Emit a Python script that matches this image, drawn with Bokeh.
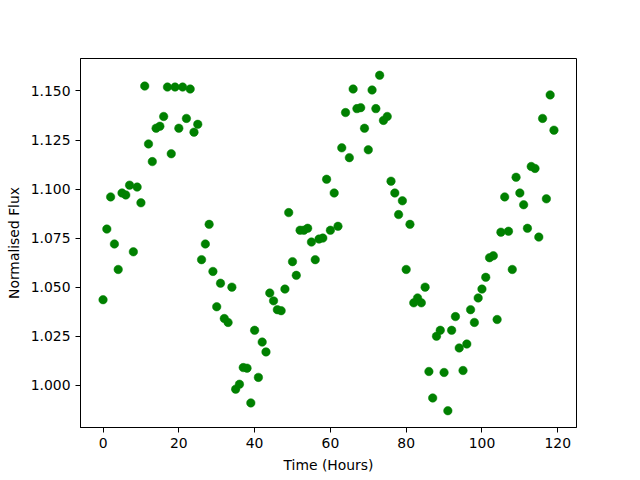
from bokeh.plotting import figure
from bokeh.models import Range1d, FixedTicker, NumeralTickFormatter
from bokeh.embed import file_html
from bokeh.resources import INLINE

hours = list(range(120))
flux = [
    1.0436, 1.0796, 1.0960, 1.0720, 1.0590, 1.0980, 1.0970, 1.1020, 1.0680, 1.1010,
    1.0930, 1.1525, 1.1230, 1.1140, 1.1310, 1.1320, 1.1370, 1.1520, 1.1180, 1.1520,
    1.1310, 1.1520, 1.1360, 1.1510, 1.1290, 1.1330, 1.0640, 1.0720, 1.0820, 1.0580,
    1.0400, 1.0520, 1.0340, 1.0320, 1.0500, 0.9980, 1.0005, 1.0090, 1.0087, 0.9910,
    1.0280, 1.0040, 1.0220, 1.0170, 1.0470, 1.0430, 1.0385, 1.0380, 1.0490, 1.0880,
    1.0630, 1.0560, 1.0790, 1.0790, 1.0800, 1.0730, 1.0640, 1.0745, 1.0750, 1.1050,
    1.0790, 1.0980, 1.0810, 1.1210, 1.1390, 1.1160, 1.1510, 1.1410, 1.1415, 1.1310,
    1.1200, 1.1505, 1.1410, 1.1580, 1.1350, 1.1370, 1.1040, 1.0980, 1.0870, 1.0940,
    1.0590, 1.0820, 1.0420, 1.0445, 1.0420, 1.0500, 1.0070, 0.9935, 1.0250, 1.0280,
    1.0065, 0.9870, 1.0280, 1.0350, 1.0190, 1.0075, 1.0210, 1.0385, 1.0320, 1.0445,
    1.0490, 1.0550, 1.0650, 1.0660, 1.0335, 1.0780, 1.0960, 1.0785, 1.0590, 1.1060,
    1.0980, 1.0920, 1.0800, 1.1115, 1.1105, 1.0755, 1.1360, 1.0950, 1.1480, 1.1300,
]
x_ticks = [0, 20, 40, 60, 80, 100, 120]
y_ticks = [1.000, 1.025, 1.050, 1.075, 1.100, 1.125, 1.150]

xr = max(hours) - min(hours)
yr = max(flux) - min(flux)

p = figure(
    output_backend="svg", toolbar_location=None,
    frame_width=496, frame_height=369,
    min_border_left=80, min_border_right=56, min_border_top=58, min_border_bottom=45,
    x_range=Range1d(min(hours) - 0.05 * xr, max(hours) + 0.05 * xr),
    y_range=Range1d(min(flux) - 0.05 * yr, max(flux) + 0.05 * yr),
    background_fill_color="white", border_fill_color="white",
)
p.outline_line_color = "black"
p.outline_line_width = 1
p.grid.visible = False

p.scatter(hours, flux, size=8.5, fill_color="#008000", line_color="#008000", line_width=0.5)

font = "DejaVu Sans"
for ax in (p.xaxis[0], p.yaxis[0]):
    ax.minor_tick_line_color = None
    ax.major_tick_in = 0
    ax.major_tick_out = 5
    ax.major_tick_line_color = "black"
    ax.axis_line_color = "black"
    ax.major_label_text_font = font
    ax.major_label_text_font_size = "13.9px"
    ax.major_label_text_color = "black"
    ax.major_label_standoff = 5
    ax.axis_label_text_font = font
    ax.axis_label_text_font_size = "13.9px"
    ax.axis_label_text_font_style = "normal"
    ax.axis_label_text_color = "black"
    ax.axis_label_standoff = 6

p.xaxis[0].ticker = FixedTicker(ticks=x_ticks)
p.yaxis[0].ticker = FixedTicker(ticks=y_ticks)
p.yaxis[0].formatter = NumeralTickFormatter(format="0.000")
p.xaxis[0].axis_label = "Time (Hours)"
p.yaxis[0].axis_label = "Normalised Flux"

open("out.html", "w").write(file_html(p, INLINE))
